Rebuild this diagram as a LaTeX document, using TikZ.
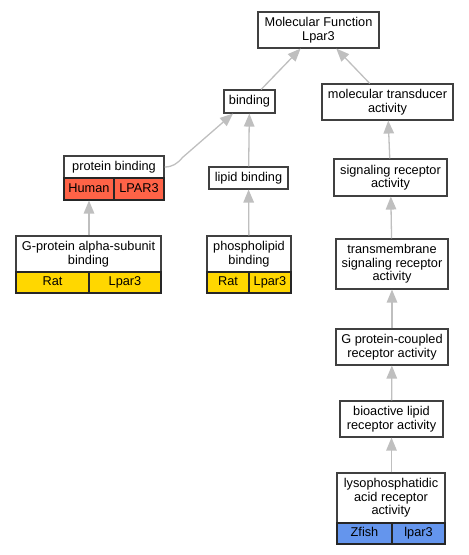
\documentclass[tikz,border=0pt]{standalone}
\usepackage{fontspec}
\setmainfont{Liberation Sans}
\usepackage{tikz}
\usetikzlibrary{arrows.meta,positioning}
\definecolor{humanred}{HTML}{FF6347}
\definecolor{ratgold}{HTML}{FFD700}
\definecolor{fishblue}{HTML}{6495ED}
\tikzset{>={Triangle[length=13bp,width=10.5bp]}}

\begin{document}
\begin{tikzpicture}[x=1bp,y=1bp,
    every node/.style={font=\fontsize{12.8}{13.6}\selectfont, inner sep=0pt, align=center},
    term/.style={draw=black!75, line width=1.1bp, fill=white},
    cell/.style={draw=black!85, line width=1.1bp, minimum height=21bp, text height=9.3bp, text depth=2.7bp},
    isa/.style={->, draw=black!25, line width=1.3bp, color=black!25}]
    \useasboundingbox (0,0) rectangle (469,-555);

    % terms
    \node[term, minimum width=121bp, minimum height=36bp] (mf) at (318.5,-30) {Molecular Function\\Lpar3};
    \node[term, minimum width=51bp, minimum height=23bp] (binding) at (249.5,-101.5) {binding};
    \node[term, minimum width=131bp, minimum height=36bp] (transducer) at (387.5,-102) {molecular transducer\\activity};
    \node[term, minimum width=100bp, minimum height=22bp] (protbind) at (114,-167) {protein binding};
    \node[term, minimum width=79bp, minimum height=22bp] (lipbind) at (248.5,-178) {lipid binding};
    \node[term, minimum width=113bp, minimum height=37bp] (sigrec) at (390.5,-177.5) {signaling receptor\\activity};
    \node[term, minimum width=145bp, minimum height=36bp] (galpha) at (88.5,-254) {G-protein alpha-subunit\\binding};
    \node[term, minimum width=84bp, minimum height=36bp] (phosbind) at (249,-254) {phospholipid\\binding};
    \node[term, minimum width=112bp, minimum height=50bp] (transmem) at (392,-264) {transmembrane\\signaling receptor\\activity};
    \node[term, minimum width=112bp, minimum height=36bp] (gpcr) at (392,-347) {G protein-coupled\\receptor activity};
    \node[term, minimum width=103bp, minimum height=36bp] (bioactive) at (391.5,-419) {bioactive lipid\\receptor activity};
    \node[term, minimum width=108bp, minimum height=50bp] (lysopa) at (391,-498) {lysophosphatidic\\acid receptor\\activity};

    % species cells
    \node[cell, fill=humanred, minimum width=50bp, minimum height=22bp] (pbhuman) at (89,-189) {Human};
    \node[cell, fill=humanred, minimum width=50bp, minimum height=22bp] (pbgene) at (139,-189) {LPAR3};
    \node[cell, fill=ratgold, minimum width=73bp] (garat) at (52.5,-282.5) {Rat};
    \node[cell, fill=ratgold, minimum width=72bp] (gagene) at (125,-282.5) {Lpar3};
    \node[cell, fill=ratgold, minimum width=42bp] (phrat) at (228,-282.5) {Rat};
    \node[cell, fill=ratgold, minimum width=42bp] (phgene) at (270,-282.5) {Lpar3};
    \node[cell, fill=fishblue, minimum width=55bp] (lyfish) at (364.5,-533.5) {Zfish};
    \node[cell, fill=fishblue, minimum width=53bp] (lygene) at (418.5,-533.5) {lpar3};

    % is_a edges
    \draw[isa] (binding) -- (mf);
    \draw[isa] (transducer) -- (mf);
    \draw[isa] (protbind.east) to[out=0,in=230] ([xshift=18bp,yshift=-2bp]protbind.north east) -- ([xshift=-16.5bp]binding.south);
    \draw[isa] (lipbind) -- (binding);
    \draw[isa] (sigrec) -- (transducer);
    \draw[isa] (galpha.north -| pbhuman) -- (pbhuman.south);
    \draw[isa] (phosbind) -- (lipbind);
    \draw[isa] (transmem) -- (sigrec);
    \draw[isa] (gpcr) -- (transmem);
    \draw[isa] (bioactive) -- (gpcr);
    \draw[isa] (lysopa.north -| bioactive) -- (bioactive);
\end{tikzpicture}
\end{document}
